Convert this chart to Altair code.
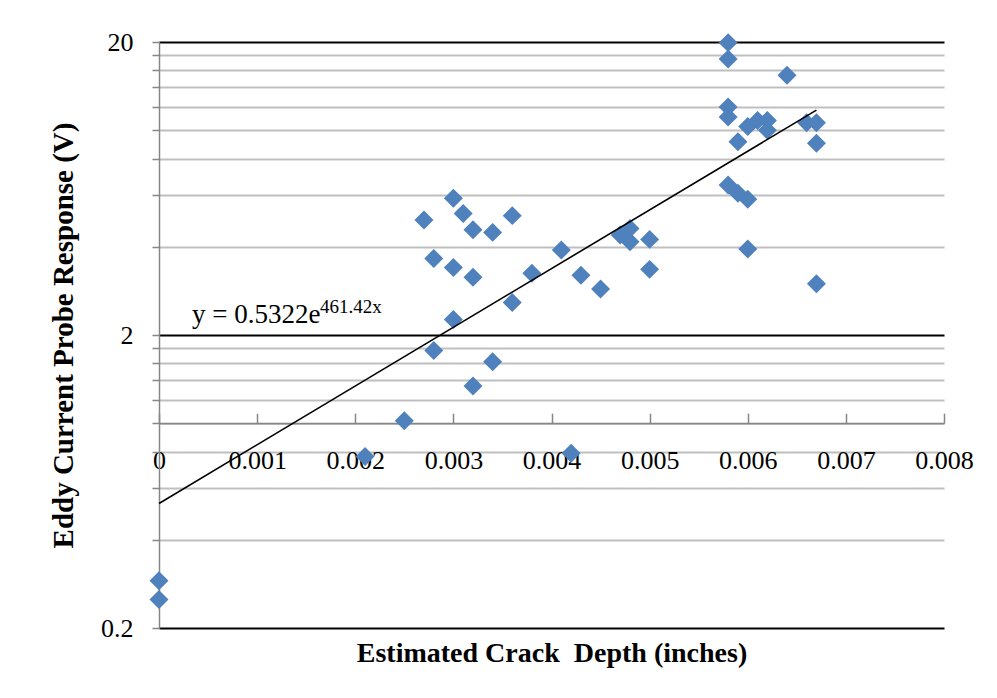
import altair as alt
import numpy as np
import pandas as pd

# ---- data ----
depth = [0, 0, 0.0021, 0.0025, 0.0042, 0.0027, 0.0030, 0.0031, 0.0036, 0.0032,
         0.0034, 0.0028, 0.0030, 0.0032, 0.0041, 0.0038, 0.0043, 0.0045, 0.0036, 0.0030,
         0.0047, 0.0048, 0.0048, 0.0050, 0.0050, 0.0028, 0.0034, 0.0032, 0.0058, 0.0058,
         0.0064, 0.0058, 0.0058, 0.0060, 0.0061, 0.0062, 0.0062, 0.0059, 0.0066, 0.0067,
         0.0067, 0.0058, 0.0059, 0.0060, 0.0060, 0.0067]
response = [0.29, 0.25, 0.77, 1.02, 0.79, 4.94, 5.86, 5.20, 5.11, 4.57,
            4.48, 3.65, 3.40, 3.15, 3.90, 3.25, 3.20, 2.87, 2.58, 2.26,
            4.39, 4.62, 4.16, 4.24, 3.35, 1.77, 1.62, 1.34, 19.9, 17.5,
            15.4, 12.0, 11.1, 10.3, 10.8, 10.8, 10.0, 9.14, 10.6, 10.6,
            9.02, 6.50, 6.09, 5.81, 3.93, 2.99]

x_ticks = [0, 0.001, 0.002, 0.003, 0.004, 0.005, 0.006, 0.007, 0.008]
y_ticks = [0.2, 0.4, 0.6, 0.8, 1.0, 1.2, 1.4, 1.6, 1.8,
           2, 4, 6, 8, 10, 12, 14, 16, 18, 20]
y_major = [0.2, 2, 20]

fit_a = 0.5322
fit_b = 461.42
equation_main = "y = 0.5322e"
equation_sup = "461.42x"
x_title = "Estimated Crack\u00a0 Depth (inches)"
y_title = "Eddy Current Probe Response (V)"

# ---- layout ----
W, H = 785, 586
y_lo, y_hi = 0.2, 20
x_lo, x_hi = 0, 0.008
axis_cross = 1.0
cross_px = H * (np.log10(y_hi) - np.log10(axis_cross)) / (np.log10(y_hi) - np.log10(y_lo))

FONT = "Liberation Serif"
GRAY = "#868686"

pts = pd.DataFrame({"depth": depth, "response": response})
tx = [min(depth), max(depth)]
trend = pd.DataFrame({"depth": tx, "response": [fit_a * np.exp(fit_b * v) for v in tx]})

xscale = alt.Scale(domain=[x_lo, x_hi], nice=False, zero=False)
yscale = alt.Scale(type="log", domain=[y_lo, y_hi], nice=False)

major_test = " || ".join(f"datum.value == {v}" for v in y_major)

points = alt.Chart(pts).mark_point(
    shape="diamond", filled=True, size=360, color="#4F81BD", opacity=1
).encode(
    x=alt.X("depth:Q", scale=xscale, axis=alt.Axis(
        orient="bottom", values=x_ticks, format=".3~f", offset=-(H - cross_px),
        ticks=False, tickSize=0, labelPadding=24, labelFont=FONT, labelFontSize=26,
        labelFlush=False, labelOverlap=False,
        labelColor="black", domainColor=GRAY, domainWidth=1.5, grid=False,
        title=x_title, titleFont=FONT, titleFontSize=28, titleFontWeight="bold",
        titleColor="black", titleY=230, titleBaseline="middle")),
    y=alt.Y("response:Q", scale=yscale, axis=alt.Axis(
        values=y_ticks,
        labelExpr=f"({major_test}) ? format(datum.value, '~g') : ''",
        labelFont=FONT, labelFontSize=26, labelColor="black", labelPadding=19,
        labelFlush=False, labelOverlap=False,
        tickSize=7, tickColor=GRAY, tickWidth=1.5,
        domainColor=GRAY, domainWidth=1.5,
        grid=True,
        gridColor={"condition": {"test": major_test, "value": "black"}, "value": "#bfbfbf"},
        gridWidth=2,
        gridOpacity=1,
        title=y_title, titleFont=FONT, titleFontSize=29, titleFontWeight="bold",
        titleColor="black", titleX=-96, titleBaseline="middle")),
)

trend_line = alt.Chart(trend).mark_line(color="black", strokeWidth=1.6).encode(
    x=alt.X("depth:Q", scale=xscale, axis=alt.Axis(
        orient="top", offset=-cross_px, values=x_ticks, labels=False, domain=False,
        grid=False, ticks=True, tickSize=10, tickColor=GRAY, tickWidth=1.5, title=None)),
    y=alt.Y("response:Q", scale=yscale, axis=None),
)

eq1 = alt.Chart(pd.DataFrame({"t": [equation_main]})).mark_text(
    align="left", baseline="alphabetic", font=FONT, fontSize=27, color="black"
).encode(x=alt.value(33), y=alt.value(281), text="t:N")

eq2 = alt.Chart(pd.DataFrame({"t": [equation_sup]})).mark_text(
    align="left", baseline="alphabetic", font=FONT, fontSize=19, color="black"
).encode(x=alt.value(161), y=alt.value(271), text="t:N")

chart = alt.layer(points, trend_line, eq1, eq2).resolve_axis(
    x="independent", y="independent"
).properties(
    width=W, height=H,
    padding={"left": 151, "top": 34, "right": 40, "bottom": 56},
    autosize=alt.AutoSizeParams(type="none"),
    background="white",
).configure_view(stroke=None)

chart.save("out.html", embed_options={"renderer": "svg", "actions": False})
